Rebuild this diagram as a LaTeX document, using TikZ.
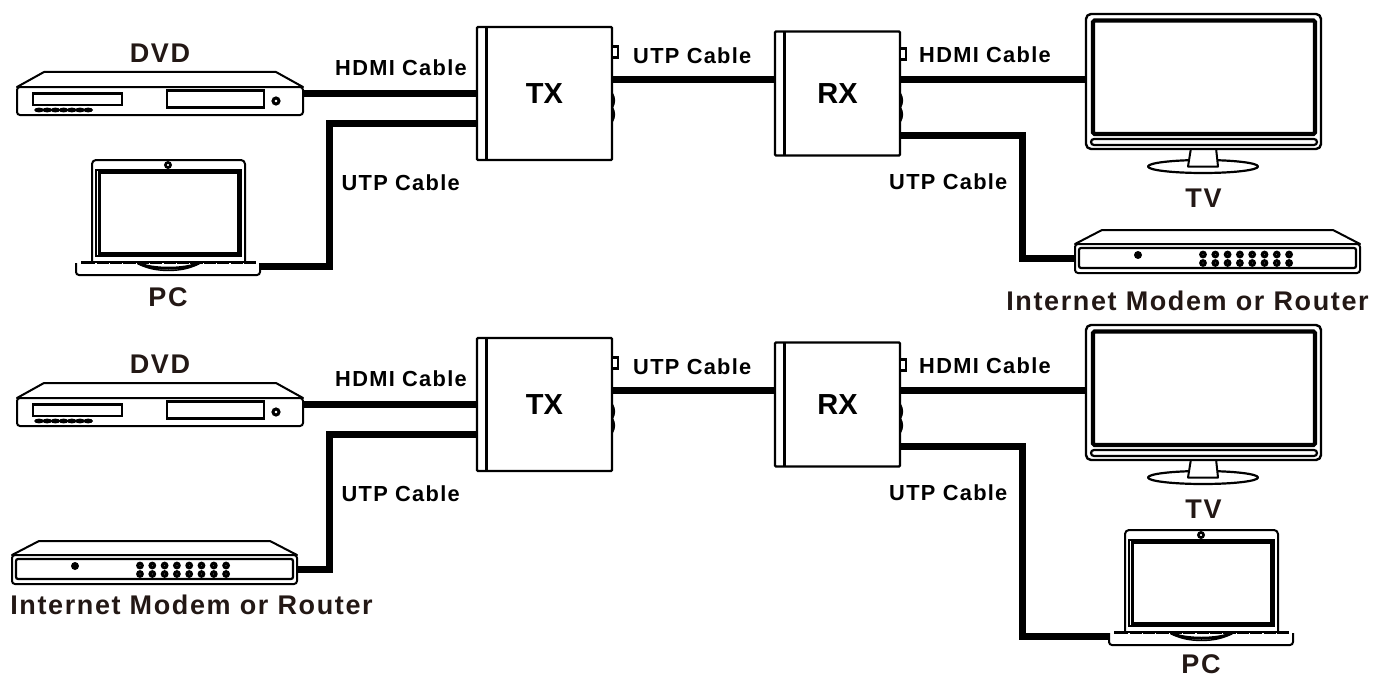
\documentclass[tikz,border=0pt]{standalone}
\usepackage{fontspec}
\usepackage{xcolor}
\usepackage{tikz}
\usetikzlibrary{positioning}
\newfontfamily\labelfont[LetterSpace=6]{Liberation Sans}
\newfontfamily\unitfont{Liberation Sans}
\definecolor{labelink}{HTML}{231815}
\tikzstyle{unit}=[draw, rectangle, fill=white, rounded corners=1pt, line width=2.4pt, inner sep=0pt, outer sep=0pt, text=black, text height=20pt, text depth=0pt, font=\unitfont\bfseries\fontsize{29}{29}\selectfont]
\tikzstyle{stripe}=[line width=2.4pt]
\tikzstyle{cable}=[line width=7pt]
\tikzstyle{outline}=[draw, fill=white, line width=2pt, line join=round]
\tikzstyle{frame}=[draw, line width=2.8pt]
\tikzstyle{body}=[rectangle, inner sep=0pt, outer sep=0pt, anchor=north west]
\tikzstyle{cablelabel}=[inner sep=0pt, text=black, text height=15.5pt, text depth=0pt, font=\labelfont\bfseries\fontsize{21.8}{21.8}\selectfont]
\tikzstyle{devlabel}=[inner sep=0pt, text=labelink, text height=19pt, text depth=0pt, font=\labelfont\bfseries\fontsize{27}{27}\selectfont]
\tikzset{
	ports/.pic={
		\draw [line width=2.2pt, fill=white] (0,#1) rectangle ++(6,11);
		\draw [line width=2.2pt] (0,0) to [bend left=30] (0,14);
		\draw [line width=2.2pt] (0,14) to [bend left=30] (0,28);
	},
	dvdplayer/.pic={
		\node (-body) [body, minimum width=286pt, minimum height=43pt] at (0,0) {};
		\coordinate (-port) at (286,21);
		\draw [outline] (0,15) -- (27,0) -- (259,0) -- (286,15) -- cycle;
		\draw [outline, rounded corners=3pt] (0,15) rectangle (286,43);
		\draw [frame] (16,21.5) rectangle (105,33);
		\draw [frame] (150,18.5) rectangle (247,35.5);
		\draw [line width=3pt, fill=white] (259,29) circle (3pt);
		\foreach \i in {0,...,6}
			\fill (22+\i*8.2,38) ellipse (4.8pt and 2.4pt);
	},
	modembox/.pic={
		\node (-body) [body, minimum width=285pt, minimum height=43pt] at (0,0) {};
		\coordinate (-east) at (285,28.5);
		\coordinate (-west) at (0,28.5);
		\draw [outline] (0,14) -- (27,0) -- (258,0) -- (285,14) -- cycle;
		\draw [outline, rounded corners=3pt] (0,14) rectangle (285,43);
		\draw [frame, line width=2.2pt, rounded corners=2pt] (4,18) rectangle (281,38);
		\fill (63,25) circle (4pt);
		\foreach \i in {0,...,7} {
			\draw [line width=3.2pt, fill=white] (128+\i*12.3,24.5) circle (2.2pt);
			\draw [line width=3.2pt, fill=white] (128+\i*12.3,33) circle (2.2pt);
		}
	},
	laptop/.pic={
		\node (-body) [body, minimum width=184pt, minimum height=115pt] at (0,0) {};
		\coordinate (-east) at (184,106);
		\coordinate (-west) at (0,106);
		\draw [outline, rounded corners=4pt] (16,102) -- (16,0) -- (169,0) -- (169,102);
		\draw [line width=2pt] (20,9.5) rectangle (165,96);
		\draw [line width=3pt] (23,12.5) rectangle (162,93);
		\draw [line width=2.6pt, fill=white] (92,5) circle (2.6pt);
		\draw [outline, rounded corners=3pt] (0,103) -- (0,115) -- (184,115) -- (184,103);
		\draw [line width=2.6pt] (5,102.5) -- (180,102.5);
		\foreach \i in {1,...,12}
			\fill [white] (6+\i*13.4,103.4) rectangle ++(1.2,0.8);
		\draw [line width=3pt] (62,103) .. controls (75,110) and (110,110) .. (123,103);
		\draw [line width=1.4pt] (62,103) .. controls (75,113) and (110,113) .. (123,103);
	},
	tvset/.pic={
		\node (-body) [body, minimum width=235pt, minimum height=159pt] at (0,0) {};
		\coordinate (-port) at (0,65);
		\draw [outline, line width=2.2pt] (117,152.5) ellipse (55pt and 6.5pt);
		\draw [outline] (105,134) -- (102,152.5) -- (132,152.5) -- (130,134);
		\draw [outline, line width=2.4pt, rounded corners=5pt] (0,0) rectangle (235,135);
		\draw [line width=4.2pt, rounded corners=1.5pt] (7,6.5) rectangle (229,120);
		\draw [line width=2.2pt, rounded corners=3pt] (5,125) rectangle (231,131);
	}
}

\begin{document}
\begin{tikzpicture}[x=1pt, y=-1pt]
	
	\useasboundingbox (0,0) rectangle (1389,677);
	
	\node (txA) [unit, minimum width=135pt, minimum height=133pt] at (544.5,93.5) {TX};
	\node (rxA) [unit, minimum width=125pt, minimum height=124pt, right=163pt of txA] {RX};
	\node (txB) [unit, minimum width=135pt, minimum height=133pt, below=178pt of txA] {TX};
	\node (rxB) [unit, minimum width=125pt, minimum height=124pt, right=163pt of txB] {RX};
	
	\pic (dvdA) at (17,72) {dvdplayer};
	\pic (pcA) at (76,160) {laptop};
	\pic (tvA) at (1086,14) {tvset};
	\pic (modemA) at (1075,230) {modembox};
	
	\pic (dvdB) at (17,383) {dvdplayer};
	\pic (modemB) at (12,541) {modembox};
	\pic (tvB) at (1086,325) {tvset};
	\pic (pcB) at (1109,530) {laptop};
	
	\node (dvdlabelA) [devlabel, above=9pt of dvdA-body] {DVD};
	\node (pclabelA) [devlabel, below=12pt of pcA-body] {PC};
	\node (tvlabelA) [devlabel, below=15.5pt of tvA-body] {TV};
	\node (modemlabelA) [devlabel, below=18pt of modemA-body, xshift=-30pt] {Internet Modem or Router};
	
	\node (dvdlabelB) [devlabel, above=9pt of dvdB-body] {DVD};
	\node (modemlabelB) [devlabel, below=11.5pt of modemB-body, xshift=37pt] {Internet Modem or Router};
	\node (tvlabelB) [devlabel, below=15.5pt of tvB-body] {TV};
	\node (pclabelB) [devlabel, below=9pt of pcB-body] {PC};
	
	\coordinate (tapA) at ([yshift=-29.5pt]txA.west);
	\coordinate (tapB) at ([yshift=-29.5pt]txB.west);
	\coordinate (linkA) at ([yshift=14.5pt]txA.east);
	\coordinate (linkB) at ([yshift=14.5pt]txB.east);
	\coordinate (rtapA) at ([yshift=-41.5pt]rxA.east);
	\coordinate (rtapB) at ([yshift=-41.5pt]rxB.east);
	
	\draw [cable] (dvdA-port) -- (txA.west |- dvdA-port);
	\draw [cable] (tapA) -- ++(-148,0) |- (pcA-east);
	\draw [cable] (linkA) -- (rxA.west |- linkA);
	\draw [cable] (rxA.east |- tvA-port) -- (tvA-port);
	\draw [cable] (rtapA) -- ++(122,0) |- (modemA-west);
	
	\draw [cable] (dvdB-port) -- (txB.west |- dvdB-port);
	\draw [cable] (tapB) -- ++(-148,0) |- (modemB-east);
	\draw [cable] (linkB) -- (rxB.west |- linkB);
	\draw [cable] (rxB.east |- tvB-port) -- (tvB-port);
	\draw [cable] (rtapB) -- ++(122,0) |- (pcB-west);
	
	\draw [stripe] ([xshift=9.5pt]txA.north west) -- ([xshift=9.5pt]txA.south west);
	\draw [stripe] ([xshift=9.5pt]rxA.north west) -- ([xshift=9.5pt]rxA.south west);
	\draw [stripe] ([xshift=9.5pt]txB.north west) -- ([xshift=9.5pt]txB.south west);
	\draw [stripe] ([xshift=9.5pt]rxB.north west) -- ([xshift=9.5pt]rxB.south west);
	
	\pic at (txA.east) {ports={-47}};
	\pic at (rxA.east) {ports={-45}};
	\pic at (txB.east) {ports={-47}};
	\pic at (rxB.east) {ports={-45}};
	
	\node (hdmiA) [cablelabel, above left=17.5pt and 10pt of txA.west] {HDMI Cable};
	\node (utpA) [cablelabel, below left=81.5pt and 17pt of txA.west] {UTP Cable};
	\node (linkutpA) [cablelabel, above right=30pt and 21pt of txA.east] {UTP Cable};
	\node (rhdmiA) [cablelabel, above right=30.5pt and 19pt of rxA.east] {HDMI Cable};
	\node (rutpA) [cablelabel, below right=80pt and -11pt of rxA.east] {UTP Cable};
	
	\node (hdmiB) [cablelabel, above left=17.5pt and 10pt of txB.west] {HDMI Cable};
	\node (utpB) [cablelabel, below left=81.5pt and 17pt of txB.west] {UTP Cable};
	\node (linkutpB) [cablelabel, above right=30pt and 21pt of txB.east] {UTP Cable};
	\node (rhdmiB) [cablelabel, above right=30.5pt and 19pt of rxB.east] {HDMI Cable};
	\node (rutpB) [cablelabel, below right=80pt and -11pt of rxB.east] {UTP Cable};
	
\end{tikzpicture}
\end{document}
